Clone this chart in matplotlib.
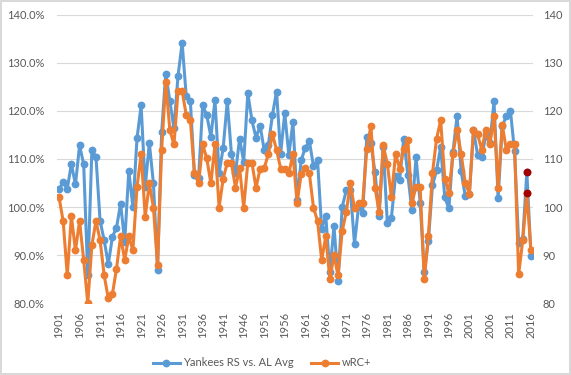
import matplotlib
matplotlib.use("Agg")
import matplotlib.pyplot as plt
from matplotlib.ticker import FuncFormatter, FixedLocator

years = list(range(1901, 2017))

yankees_rs = [
    103.8, 105.1, 103.8, 108.9, 104.7, 112.8, 108.9, 85.8, 111.8, 110.4,   # 1901-1910
    97.1, 93.1, 88.1, 93.8, 95.7, 100.7, 92.8, 107.5, 100.0, 114.3,        # 1911-1920
    121.1, 104.2, 113.3, 104.9, 87.0, 115.5, 127.7, 122.0, 116.4, 127.3,   # 1921-1930
    134.1, 123.0, 122.0, 106.6, 106.0, 121.1, 119.1, 114.6, 122.2, 107.0,  # 1931-1940
    112.3, 122.0, 111.1, 107.1, 114.2, 109.4, 123.7, 118.0, 114.4, 116.9,  # 1941-1950
    111.8, 112.9, 119.1, 124.0, 111.1, 119.5, 110.8, 117.7, 101.4, 109.7,  # 1951-1960
    112.3, 113.7, 108.5, 109.7, 95.5, 98.1, 86.5, 96.0, 84.7, 100.0,       # 1961-1970
    103.5, 103.5, 92.3, 100.2, 98.8, 114.6, 113.2, 107.2, 98.1, 112.5,     # 1971-1980
    96.6, 97.8, 106.5, 105.7, 114.2, 106.6, 99.3, 110.3, 100.9, 86.5,      # 1981-1990
    93.0, 104.5, 107.6, 112.5, 102.0, 99.7, 111.5, 118.9, 107.4, 102.2,    # 1991-2000
    102.8, 116.0, 110.8, 110.4, 114.9, 113.2, 122.0, 101.8, 116.8, 118.9,  # 2001-2010
    120.0, 111.6, 92.6, 93.3, 107.3, 89.9,                                 # 2011-2016
]

wrc_plus = [
    102.0, 97.1, 85.8, 98.1, 91.0, 97.1, 89.0, 80.0, 92.1, 97.1,           # 1901-1910
    93.1, 85.8, 81.0, 81.9, 87.2, 93.9, 89.0, 93.9, 91.0, 104.2,           # 1911-1920
    111.0, 98.0, 104.9, 99.9, 87.9, 111.9, 125.9, 116.0, 113.0, 124.1,     # 1921-1930
    124.1, 119.1, 118.0, 107.1, 104.9, 113.0, 110.1, 104.9, 113.0, 99.9,   # 1931-1940
    105.9, 109.2, 109.2, 104.0, 108.1, 99.9, 109.2, 109.2, 104.0, 108.0,   # 1941-1950
    108.1, 111.0, 115.1, 111.9, 108.0, 108.0, 107.0, 111.0, 100.9, 106.8,  # 1951-1960
    108.1, 107.0, 99.9, 97.1, 89.0, 93.9, 85.0, 90.0, 85.8, 95.0,          # 1961-1970
    99.0, 104.9, 99.7, 100.9, 100.9, 112.1, 116.9, 104.0, 99.0, 112.8,     # 1971-1980
    109.0, 102.0, 111.0, 108.0, 112.1, 114.0, 100.9, 104.2, 104.2, 85.0,   # 1981-1990
    93.9, 107.0, 114.2, 118.0, 105.9, 102.9, 111.1, 116.0, 111.0, 104.9,   # 1991-2000
    102.8, 116.0, 115.1, 111.9, 116.1, 113.0, 119.0, 104.0, 117.1, 111.9,  # 2001-2010
    113.0, 113.0, 86.0, 93.1, 102.9, 91.0,                                 # 2011-2016
]

highlight_year = 2015
tick_years = list(range(1901, 2017, 5))

BLUE = "#5B9BD5"
ORANGE = "#ED7D31"
DARKRED = "#A50000"
GRID = "#D9D9D9"
TXT = "#595959"

plt.rcParams['font.family'] = ['Lato', 'DejaVu Sans']

W, H = 571, 375
fig = plt.figure(figsize=(W / 100, H / 100), dpi=100)
fig.patch.set_facecolor("white")
fig.patch.set_edgecolor("#D9D9D9")
fig.patch.set_linewidth(1.5)

x0, x1, ytop, ybot = 57, 533, 14.5, 303.3
ax = fig.add_axes([x0 / W, 1 - ybot / H, (x1 - x0) / W, (ybot - ytop) / H])
ax2 = ax.twinx()

idx = list(range(len(years)))
hi = years.index(highlight_year)

ax.plot(idx, yankees_rs, color=BLUE, lw=2.2, marker='o', ms=4.6,
        markerfacecolor=BLUE, markeredgecolor=BLUE, solid_joinstyle='round',
        label="Yankees RS vs. AL Avg", zorder=3)
ax.plot([hi], [yankees_rs[hi]], 'o', ms=4.6, color=DARKRED, zorder=4)

ax2.plot(idx, wrc_plus, color=ORANGE, lw=2.2, marker='o', ms=4.6,
         markerfacecolor=ORANGE, markeredgecolor=ORANGE, solid_joinstyle='round',
         label="wRC+", zorder=3)
ax2.plot([hi], [wrc_plus[hi]], 'o', ms=4.6, color=DARKRED, zorder=4)

for a in (ax, ax2):
    a.set_ylim(80, 140)
    a.set_xlim(-0.5, len(years) - 0.5)
    for s in a.spines.values():
        s.set_visible(False)
    a.set_yticks(list(range(80, 141, 10)))
    a.tick_params(axis='both', length=0, colors=TXT, labelsize=8)

ax.yaxis.grid(True, color=GRID, lw=0.8)
ax.set_axisbelow(True)
ax.yaxis.set_major_formatter(FuncFormatter(lambda v, p: f"{v:.1f}%"))
ax2.yaxis.set_major_formatter(FuncFormatter(lambda v, p: f"{int(v)}"))
ax.tick_params(axis='y', pad=9)
ax2.tick_params(axis='y', pad=7)

ax.set_xticks([years.index(y) for y in tick_years])
ax.set_xticklabels([str(y) for y in tick_years], rotation=90, va='top', ha='center')
ax.tick_params(axis='x', pad=6)

h1, l1 = ax.get_legend_handles_labels()
h2, l2 = ax2.get_legend_handles_labels()
fig.legend(h1 + h2, l1 + l2, loc='center', bbox_to_anchor=(262 / W, 1 - 363 / H),
           ncol=2, frameon=False, fontsize=8, handlelength=2.4, columnspacing=1.6,
           handletextpad=0.3, labelcolor=TXT)

fig.savefig("out.png", dpi=100, facecolor=fig.get_facecolor(), edgecolor=fig.get_edgecolor())
